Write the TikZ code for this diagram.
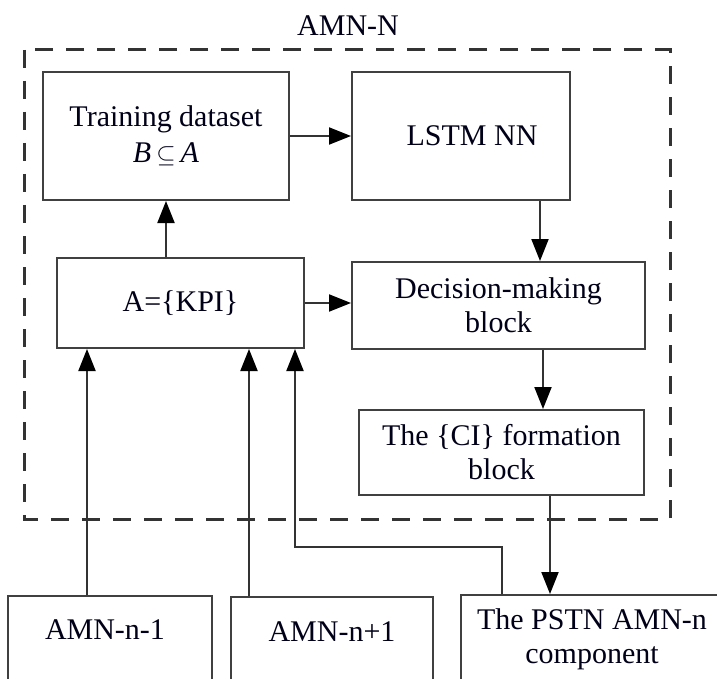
\documentclass[tikz,border=0pt]{standalone}
\usepackage{fontspec}
\setmainfont{Liberation Serif}
\usetikzlibrary{arrows.meta}
\begin{document}
\begin{tikzpicture}[x=1pt,y=-1pt,
  box/.style={draw=black!75,line width=2pt,rectangle,inner sep=0pt,align=center,text=black!90!blue,font=\fontsize{30}{34}\selectfont},
  lbl/.style={inner sep=0pt,align=center,text=black!90!blue,font=\fontsize{30}{34}\selectfont},
  arr/.style={draw=black!80,line width=2pt,-{Triangle[length=22pt,width=17pt,color=black]}},
  ln/.style={draw=black!80,line width=2pt}]
\useasboundingbox (0,0) rectangle (717,679);
\clip (0,0) rectangle (717,679);
\fill[white] (0,0) rectangle (717,679);
% container
\draw[black!80,line width=3pt,dash pattern=on 18pt off 13pt] (24,50) rectangle (670,519);
\node[lbl] (title) at (348,26) {AMN-N};
% boxes
\node[box,minimum width=246pt,minimum height=128pt] (train) at (166,136) {Training dataset\\[2pt] \textit{B}\,$\subseteq$\,\textit{A}};
\node[box,minimum width=218pt,minimum height=128pt] (lstm) at (461,136) {};
\node[lbl] (lstmt) at (472,136) {LSTM NN};
\node[box,minimum width=247pt,minimum height=90pt] (kpi) at (180.5,303) {A=\{KPI\}};
\node[box,minimum width=293pt,minimum height=87pt] (dec) at (498.5,305.5) {Decision-making\\block};
\node[box,minimum width=285pt,minimum height=85pt] (ci) at (501.5,452.5) {The \{CI\} formation\\block};
\node[box,minimum width=262pt,minimum height=160pt] (pstn) at (592,675) {};
\node[lbl] (pstnt) at (592,639) {The PSTN AMN-n\\component};
\node[box,minimum width=204pt,minimum height=160pt] (n1) at (110,676) {};
\node[lbl] (n1t) at (105,630) {AMN-n-1};
\node[box,minimum width=202pt,minimum height=160pt] (n2) at (332,677) {};
\node[lbl] (n2t) at (332,632) {AMN-n+1};
% connectors
\draw[arr] (train.east) -- (train.east -| lstm.west);
\draw[arr] (kpi.north -| train.south) -- (train.south);
\draw[arr] (kpi.east) -- (kpi.east -| dec.west);
\draw[arr] (lstm.south -| 540,0) -- (dec.north -| 540,0);
\draw[arr] (dec.south -| 543,0) -- (ci.north -| 543,0);
\draw[arr] (ci.south -| 550,0) -- (pstn.north -| 550,0);
\coordinate (fb1) at (502,547);
\coordinate (fb2) at (295,547);
\draw[arr] (pstn.north -| fb1) -- (fb1) -- (fb2) -- (kpi.south -| fb2);
\draw[arr] (n1.north -| 87,0) -- (kpi.south -| 87,0);
\draw[arr] (n2.north -| 249,0) -- (kpi.south -| 249,0);
\end{tikzpicture}
\end{document}
